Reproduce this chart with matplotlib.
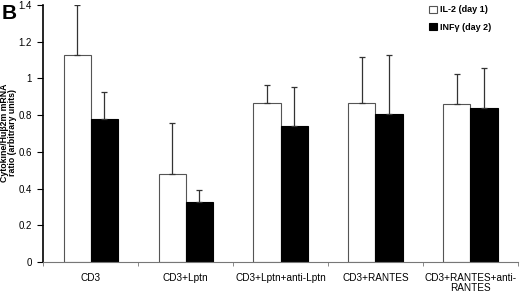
import numpy as np
import matplotlib
matplotlib.use("Agg")
import matplotlib.pyplot as plt

plt.rcParams['font.family'] = ['Liberation Sans', 'DejaVu Sans']

groups = ["CD3", "CD3+Lptn", "CD3+Lptn+anti-Lptn", "CD3+RANTES",
          "CD3+RANTES+anti-\nRANTES"]
il2 = [1.13, 0.48, 0.868, 0.868, 0.858]
il2_err = [0.27, 0.275, 0.098, 0.25, 0.166]
infg = [0.78, 0.328, 0.742, 0.804, 0.837]
infg_err = [0.145, 0.064, 0.211, 0.325, 0.22]
yticks = [0, 0.2, 0.4, 0.6, 0.8, 1, 1.2, 1.4]
ytick_labels = ["0", "0.2", "0.4", "0.6", "0.8", "1", "1.2", "1.4"]

fig = plt.figure(figsize=(5.2, 2.92), dpi=100)
ax = fig.add_axes([0.083, 0.103, 0.913, 0.880])

x = np.arange(len(groups))
w = 0.285
err_kw = dict(ecolor="#333333", elinewidth=0.9, capsize=2, capthick=0.9)
ax.bar(x - w / 2, il2, w, color="white", edgecolor="#555555", linewidth=0.8,
       yerr=[np.zeros(len(il2)), il2_err], error_kw=err_kw, label="IL-2 (day 1)")
ax.bar(x + w / 2, infg, w, color="black", edgecolor="black", linewidth=0.8,
       yerr=[np.zeros(len(infg)), infg_err], error_kw=err_kw, label="INFγ (day 2)")

ax.set_xlim(-0.5, len(groups) - 0.5)
ax.set_ylim(0, 1.4)
ax.set_yticks(yticks)
ax.set_yticklabels(ytick_labels, fontsize=7)
ax.set_xticks(x)
ax.set_xticklabels(groups, fontsize=7.2, linespacing=1.0)
ax.tick_params(axis="x", length=0, pad=8)
ax.set_xticks(np.arange(len(groups) + 1) - 0.5, minor=True)
ax.tick_params(axis="x", which="minor", length=3, direction="out", color="#777777")
ax.tick_params(axis="y", length=4, direction="out", width=0.8, pad=4)

ax.spines["top"].set_visible(False)
ax.spines["right"].set_visible(False)
ax.spines["left"].set_linewidth(1.2)
ax.spines["bottom"].set_color("#777777")
ax.spines["bottom"].set_linewidth(0.8)

# y label placed by hand, it sits very close to the figure edge
fig.text(0.0165, 0.545, "Cytokine/Huβ2m mRNA\nratio (arbitrary units)",
         fontsize=6.3, fontweight="bold", linespacing=0.95, rotation=90,
         ha="center", va="center", multialignment="center")

leg = ax.legend(loc="upper right", bbox_to_anchor=(0.96, 1.03), frameon=False,
                prop=dict(size=6.5, weight="bold"), handlelength=0.9,
                handleheight=0.9, handletextpad=0.3, labelspacing=0.9)

fig.text(0.003, 0.985, "B", fontsize=15, fontweight="bold", va="top", ha="left")

fig.savefig("out.png", dpi=100)
